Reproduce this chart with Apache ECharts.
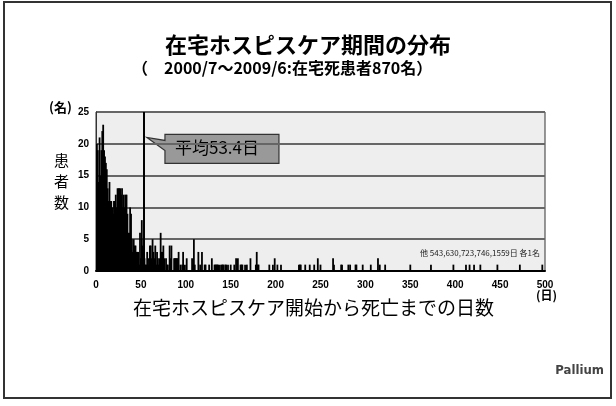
<!DOCTYPE html>
<html>
<head>
<meta charset="utf-8">
<script src="https://cdn.jsdelivr.net/npm/echarts@6/dist/echarts.min.js"></script>
<style>
  html, body { margin: 0; padding: 0; background: #fff; }
  #chart { width: 616px; height: 406px; }
</style>
</head>
<body>
<div id="chart"></div>
<script>
// 日数 1..71 の患者数
var earlyCounts = [
  20, 19, 14, 21, 15, 19, 22, 23, 19, 18,
  17, 16, 13, 11, 14, 11, 11, 10, 9, 11,
  11, 12, 10, 13, 13, 13, 13, 12, 13, 10,
  12, 10, 12, 12, 9, 6, 6, 10, 9, 5,
  3, 5, 4, 4, 3, 3, 3, 1, 6, 2,
  8, 4, 5, 2, 1, 1, 3, 2, 1, 4,
  4, 2, 5, 3, 2, 4, 1, 3, 2, 1,
  2
];
// 72日以降（まばらな部分）
var laterDays = [72, 73, 74, 75, 76, 78, 79, 80, 82, 83, 84, 87, 88, 89, 90, 91, 92, 94, 96, 97, 99,
  101, 107, 108, 109, 110, 114, 116, 118, 121, 122, 126, 129, 132, 133, 134, 135, 136, 138,
  140, 141, 142, 144, 145, 147, 150, 154, 156, 158, 161, 162, 163, 166, 168, 172, 178, 179, 180, 181,
  193, 197, 199, 202, 206, 226, 227, 228, 233, 238, 243, 247, 250, 264, 265, 273, 274,
  281, 283, 289, 290, 297, 306, 314, 316, 322, 350, 373, 398, 412, 416, 421, 428, 447, 472, 497];
var laterCounts = [6, 3, 3, 4, 2, 2, 1, 1, 4, 2, 4, 2, 2, 2, 2, 2, 3, 1, 1, 3, 1,
  2, 2, 1, 5, 1, 3, 1, 3, 1, 1, 1, 2, 1, 1, 1, 1, 1, 1,
  1, 1, 1, 1, 1, 1, 1, 1, 2, 2, 1, 1, 1, 1, 1, 2, 1, 3, 1, 1,
  1, 1, 2, 1, 1, 1, 1, 1, 1, 1, 1, 2, 1, 2, 1, 1, 1,
  1, 1, 1, 1, 1, 1, 2, 1, 1, 1, 1, 1, 1, 1, 1, 1, 1, 1, 1];
var meanDays = 53.4;
var yTicks = [0, 5, 10, 15, 20, 25];
var xTicks = [0, 50, 100, 150, 200, 250, 300, 350, 400, 450, 500];

var barData = [];
earlyCounts.forEach(function (v, i) { barData.push([i + 1, v]); });
laterDays.forEach(function (d, i) { barData.push([d, laterCounts[i]]); });

var chart = echarts.init(document.getElementById('chart'));
var jp = '"Noto Sans CJK JP", sans-serif';
var num = '"Liberation Sans", Arial, sans-serif';

var option = {
  animation: false,
  backgroundColor: '#fff',
  grid: {
    left: 96, right: 71, top: 112, bottom: 135,
    show: true, backgroundColor: '#eeeeee', borderColor: '#333', borderWidth: 1
  },
  xAxis: {
    type: 'value', min: xTicks[0], max: xTicks[xTicks.length - 1], interval: 50,
    axisLine: { lineStyle: { color: '#000', width: 2 } },
    axisTick: { show: false },
    splitLine: { show: false },
    axisLabel: { color: '#000', fontFamily: num, fontWeight: 'bold', fontSize: 10, margin: 9 }
  },
  yAxis: {
    type: 'value', min: yTicks[0], max: yTicks[yTicks.length - 1], interval: 5,
    axisLine: { show: true, lineStyle: { color: '#333', width: 1 } },
    axisTick: { show: false },
    splitLine: { lineStyle: { color: '#666', width: 2 } },
    axisLabel: { color: '#000', fontFamily: num, fontWeight: 'bold', fontSize: 10, margin: 7 }
  },
  series: [{
    type: 'bar',
    data: barData,
    barWidth: 1.8,
    itemStyle: { color: '#000' },
    markLine: {
      silent: true, symbol: 'none', label: { show: false },
      lineStyle: { color: '#000', width: 2, type: 'solid' },
      data: [{ xAxis: meanDays }]
    }
  }],
  graphic: [
    { type: 'rect', shape: { x: 4, y: 2, width: 607, height: 396 },
      style: { fill: 'none', stroke: '#333', lineWidth: 2 } },
    { type: 'text', left: 'center', top: 34, style: { text: '在宅ホスピスケア期間の分布', font: 'bold 22px ' + jp, fill: '#000' } },
    { type: 'text', left: 132, top: 60, style: { text: '（　2000/7～2009/6:在宅死患者870名）', font: 'bold 16px ' + jp, fill: '#000' } },
    { type: 'text', left: 49, top: 101, style: { text: '(名)', font: 'bold 13px ' + jp, fill: '#000' } },
    { type: 'text', left: 54, top: 150, style: { text: '患\n者\n数', font: '15px ' + jp, fill: '#000', lineHeight: 21 } },
    { type: 'text', left: 536, top: 289, style: { text: '(日)', font: 'bold 12px ' + jp, fill: '#000' } },
    { type: 'text', left: 133, top: 298, style: { text: '在宅ホスピスケア開始から死亡までの日数', font: '19px ' + jp, fill: '#000' } },
    { type: 'text', right: 76, top: 249, style: { text: '他 543,630,723,746,1559日 各1名', font: '8px ' + jp, fill: '#222' } },
    { type: 'text', right: 12, top: 364, style: { text: 'Pallium', font: 'bold 13px "DejaVu Sans Condensed", "Liberation Sans", sans-serif', fill: '#444' } }
  ]
};
chart.setOption(option);

// 平均線を指す吹き出し
var tip = chart.convertToPixel({ gridIndex: 0 }, [meanDays, 21]);
var bx = tip[0] + 21, by = tip[1] - 3, bw = 114, bh = 29;
chart.setOption({
  graphic: option.graphic.concat([
    { type: 'polygon', shape: { points: [
        [bx, by], [bx + bw, by], [bx + bw, by + bh], [bx, by + bh],
        [bx, by + 16], [tip[0] + 3, tip[1]], [bx, by + 6]] },
      style: { fill: '#999', stroke: '#333', lineWidth: 1.2 } },
    { type: 'text', left: bx + 10, top: by + 5, style: { text: '平均53.4日', font: '17px ' + jp, fill: '#000' } }
  ])
});
</script>
</body>
</html>
